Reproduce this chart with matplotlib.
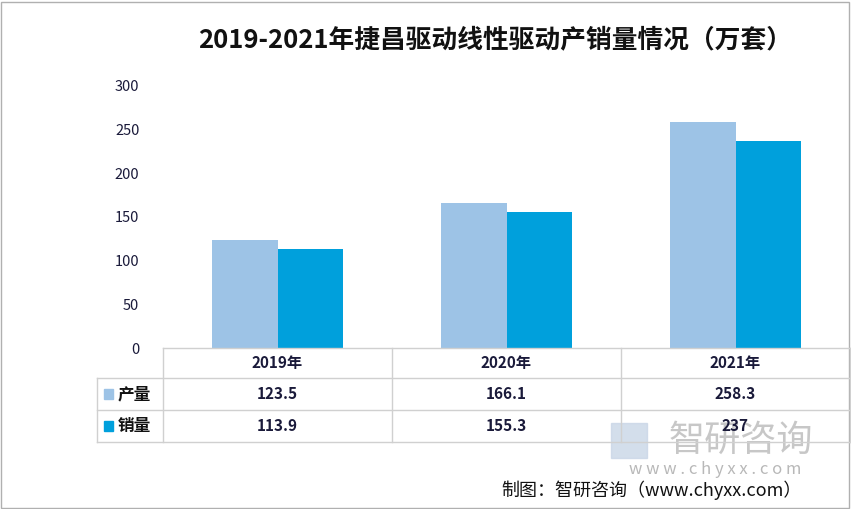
import matplotlib.pyplot as plt
import numpy as np
from matplotlib.patches import Rectangle

plt.rcParams['font.family'] = ['Noto Sans CJK SC', 'DejaVu Sans']

years = ['2019年', '2020年', '2021年']
production = [123.5, 166.1, 258.3]
sales = [113.9, 155.3, 237]
series_names = ['产量', '销量']
colors = ['#9DC3E6', '#00A0DC']
yticks = [0, 50, 100, 150, 200, 250, 300]

W, H = 851, 509
fig = plt.figure(figsize=(W / 100, H / 100), dpi=100)

def fx(px):
    return px / W

def fy(py):
    return 1 - py / H

# plot area
left, right, top, bottom = 163, 850, 86, 348
ax = fig.add_axes([fx(left), fy(bottom), fx(right) - fx(left), fy(top) - fy(bottom)])
x = np.arange(len(years))
bw = 0.284
ax.bar(x - bw / 2, production, bw, color=colors[0])
ax.bar(x + bw / 2, sales, bw, color=colors[1])
ax.set_xlim(-0.5, len(years) - 0.5)
ax.set_ylim(0, 300)
ax.set_yticks(yticks)
ax.set_yticklabels([str(t) for t in yticks], fontsize=10.5, color='#1a1a3a')
ax.tick_params(axis='y', length=0, pad=17)
ax.set_xticks([])
for s in ax.spines.values():
    s.set_visible(False)

# table lines
lc = '#d0d0d0'
col_w = (right - left) / len(years)
rows = [348, 378, 410, 442]
fig.add_artist(plt.Line2D([fx(left), fx(right)], [fy(348)] * 2, color=lc, lw=1))
for r in rows[1:]:
    fig.add_artist(plt.Line2D([fx(97), fx(right)], [fy(r)] * 2, color=lc, lw=1))
fig.add_artist(plt.Line2D([fx(97)] * 2, [fy(378), fy(442)], color=lc, lw=1))
for i in range(len(years) + 1):
    xx = left + i * col_w
    fig.add_artist(plt.Line2D([fx(xx)] * 2, [fy(348), fy(442)], color=lc, lw=1))

tc = '#1a1a3a'
for i, yr in enumerate(years):
    cx = left + (i + 0.5) * col_w
    fig.text(fx(cx), fy(363), yr, ha='center', va='center', fontsize=11, fontweight='bold', color=tc)
    fig.text(fx(cx), fy(394), f'{production[i]:g}', ha='center', va='center', fontsize=11, fontweight='bold', color=tc)
    fig.text(fx(cx), fy(426), f'{sales[i]:g}', ha='center', va='center', fontsize=11, fontweight='bold', color=tc,
             zorder=5)

for j, (name, c) in enumerate(zip(series_names, colors)):
    cy = 394 + j * 32
    fig.add_artist(Rectangle((fx(104), fy(cy + 5)), fx(9), 10 / H, color=c))
    fig.text(fx(118), fy(cy), name, ha='left', va='center', fontsize=12, fontweight='bold', color='#111111')

# title
fig.text(fx(495), fy(40), '2019-2021年捷昌驱动线性驱动产销量情况（万套）', ha='center', va='center',
         fontsize=18.5, fontweight='bold', color='#111111')

# watermark
fig.add_artist(Rectangle((fx(611), fy(458)), fx(36), 35 / H, color='#c9d6e6', alpha=0.8, zorder=1))
fig.text(fx(741), fy(441), '智研咨询', ha='center', va='center', fontsize=26, color='#b0b0b0', alpha=0.7, zorder=1)
fig.text(fx(715), fy(470), 'w w w . c h y x x . c o m', ha='center', va='center', fontsize=12, color='#b8b8b8')
fig.text(fx(651), fy(490), '制图：智研咨询（www.chyxx.com）', ha='center', va='center', fontsize=13, color='#111111')

# outer border
fig.add_artist(Rectangle((0.001, 0.002), 0.997, 0.995, fill=False, ec='#b0b0b0', lw=1))

fig.savefig('out.png', dpi=100)
